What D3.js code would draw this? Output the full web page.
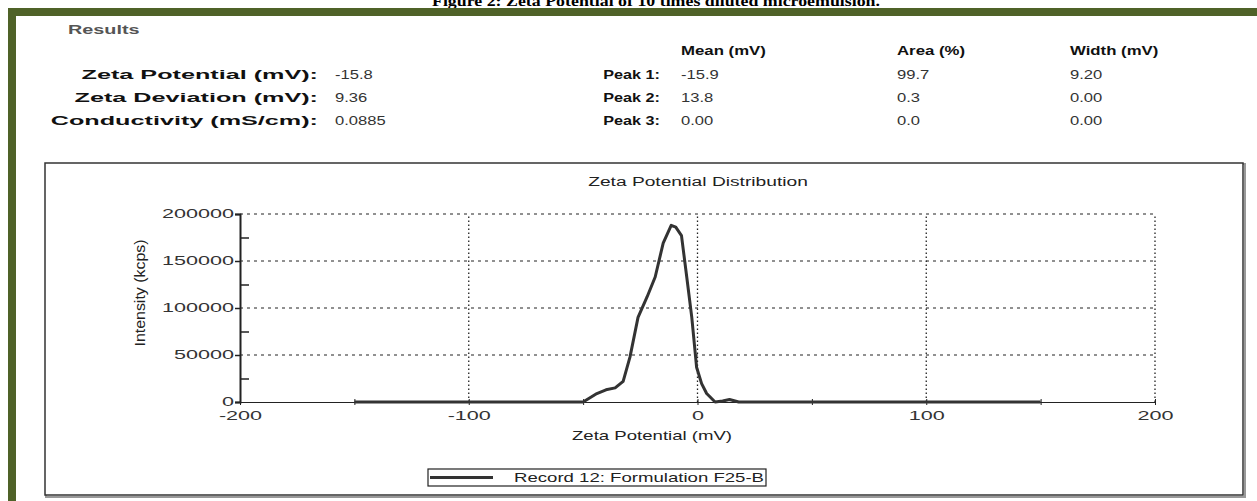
<!DOCTYPE html>
<html>
<head>
<meta charset="utf-8">
<script src="https://d3js.org/d3.v7.min.js"></script>
<style>
  body { margin: 0; background: #fff; }
  text { font-family: "Liberation Sans", Arial, sans-serif; }
</style>
</head>
<body>
<svg id="chart" width="1257" height="501"></svg>
<script>

// curve
var zeta      = [-150, -50, -44, -40, -36, -32.5, -29.5, -26, -22, -18.5, -15, -11.5, -9.5, -7, -4.7, -2.5, -0.4, 1.8, 4, 7.7, 11, 14, 18, 150];
var intensity = [0, 0, 9000, 13000, 15000, 22000, 48000, 90000, 112000, 133000, 169000, 188000, 186000, 177000, 133000, 90000, 37000, 19600, 9000, 0, 1000, 2700, 0, 0];

var xMajor = [-200, -100, 0, 100, 200];
var xMinor = [-150, -50, 50, 150];
var yMajor = [0, 50000, 100000, 150000, 200000];
var yMinor = [25000, 75000, 125000, 175000];

var summaryLabels = ["Zeta Potential (mV):", "Zeta Deviation (mV):", "Conductivity (mS/cm):"];
var summaryValues = ["-15.8", "9.36", "0.0885"];
var peakHeaders   = ["Mean (mV)", "Area (%)", "Width (mV)"];
var peakLabels    = ["Peak 1:", "Peak 2:", "Peak 3:"];
var peakMean      = ["-15.9", "13.8", "0.00"];
var peakArea      = ["99.7", "0.3", "0.0"];
var peakWidth     = ["9.20", "0.00", "0.00"];

var SX = 1.8;   // the picture is stretched sideways
var svg = d3.select("#chart");

function txt(g, s, x, y, o) {
  o = o || {};
  var tr = "translate(" + x + "," + y + ") scale(" + (o.sx || SX) + ",1)";
  if (o.rot) tr += " rotate(" + o.rot + ")";
  var t = g.append("text")
    .attr("transform", tr)
    .attr("text-anchor", o.anchor || "start")
    .attr("font-size", o.size || 12)
    .attr("font-weight", o.bold ? "bold" : null)
    .attr("fill", o.fill || "#222")
    .text(s);
  if (o.len) t.attr("textLength", o.len).attr("lengthAdjust", "spacingAndGlyphs");
  return t;
}

// caption, cut at the top
txt(svg, "Figure 2: Zeta Potential of 10 times diluted microemulsion.", 656, 6,
  { sx: 1, anchor: "middle", size: 15, bold: true, fill: "#000", len: 448 })
  .style("font-family", "'Liberation Serif', 'Times New Roman', serif");

// green frame
svg.append("rect").attr("x", 8).attr("y", 8).attr("width", 1249).attr("height", 8).attr("fill", "#4f6228");
svg.append("rect").attr("x", 8).attr("y", 8).attr("width", 8).attr("height", 493).attr("fill", "#4f6228");

// results block
txt(svg, "Results", 68, 34, { size: 12, sx: 1.65, bold: true, fill: "#555" });
peakHeaders.forEach(function(h, i) {
  txt(svg, h, [681, 897, 1070][i], 55, { size: 12, sx: 1.4, bold: true, fill: "#111" });
});
summaryLabels.forEach(function(s, i) {
  var yy = 79 + i * 23;
  txt(svg, s, 318, yy, { anchor: "end", size: 12, sx: 2.1, bold: true, fill: "#111" });
  txt(svg, summaryValues[i], 335, yy, { size: 12, sx: 1.38, fill: "#333" });
  txt(svg, peakLabels[i], 660, yy, { anchor: "end", size: 12, sx: 1.35, bold: true, fill: "#111" });
  txt(svg, peakMean[i], 681, yy, { size: 12, sx: 1.38, fill: "#333" });
  txt(svg, peakArea[i], 897, yy, { size: 12, sx: 1.38, fill: "#333" });
  txt(svg, peakWidth[i], 1070, yy, { size: 12, sx: 1.38, fill: "#333" });
});

// chart box
svg.append("rect").attr("x", 46).attr("y", 164).attr("width", 1199).attr("height", 333)
  .attr("fill", "none").attr("stroke", "#999").attr("stroke-width", 2);
svg.append("rect").attr("x", 45).attr("y", 163).attr("width", 1198).attr("height", 332)
  .attr("fill", "#fff").attr("stroke", "#333").attr("stroke-width", 1.5);

var x = d3.scaleLinear().domain([-200, 200]).range([240, 1155]);
var y = d3.scaleLinear().domain([0, 200000]).range([402, 214]);

txt(svg, "Zeta Potential Distribution", 698, 186, { anchor: "middle", size: 12, sx: 1.6, fill: "#222" });

// grid
svg.append("g").selectAll("line").data(yMajor.slice(1)).enter().append("line")
  .attr("x1", x(-200)).attr("x2", x(200))
  .attr("y1", function(d) { return y(d); }).attr("y2", function(d) { return y(d); })
  .attr("stroke", "#222").attr("stroke-width", 1).attr("stroke-dasharray", "3,4");
svg.append("g").selectAll("line").data(xMajor.slice(1)).enter().append("line")
  .attr("x1", function(d) { return x(d); }).attr("x2", function(d) { return x(d); })
  .attr("y1", y(0)).attr("y2", y(200000))
  .attr("stroke", "#222").attr("stroke-width", 1.3).attr("stroke-dasharray", "1.5,2.5");

// x axis
var xAxis = svg.append("g").attr("transform", "translate(0," + y(0) + ")")
  .call(d3.axisBottom(x).tickValues(xMajor.concat(xMinor)).tickSize(3).tickPadding(6)
    .tickFormat(function(d) { return xMajor.indexOf(d) >= 0 ? d : ""; }));
xAxis.select(".domain").attr("stroke", "#222");
xAxis.selectAll(".tick line").attr("y1", -3).attr("stroke", "#222");
xAxis.selectAll(".tick text")
  .attr("font-family", null).attr("font-size", 12).attr("fill", "#333")
  .attr("transform", "scale(" + SX + ",1)");

// y axis
var yAxis = svg.append("g").attr("transform", "translate(" + x(-200) + ",0)")
  .call(d3.axisLeft(y).tickValues(yMajor).tickSize(5).tickPadding(0).tickFormat(d3.format("d")));
yAxis.select(".domain").attr("stroke", "#222").attr("stroke-width", 2);
yAxis.selectAll(".tick line").attr("stroke", "#222").attr("stroke-width", 1.5);
yAxis.selectAll(".tick text")
  .attr("font-family", null).attr("font-size", 12).attr("fill", "#333")
  .attr("x", -6 / SX).attr("transform", "scale(" + SX + ",1)");
var yMinorAxis = svg.append("g").attr("transform", "translate(" + x(-200) + ",0)")
  .call(d3.axisRight(y).tickValues(yMinor).tickSize(9).tickFormat(""));
yMinorAxis.select(".domain").remove();
yMinorAxis.selectAll(".tick line").attr("stroke", "#222").attr("stroke-width", 1.5);

txt(svg, "Intensity (kcps)", 145, 293, { anchor: "middle", size: 11, sx: 1.35, rot: -90, fill: "#222", len: 107 });
txt(svg, "Zeta Potential (mV)", 652, 440, { anchor: "middle", size: 12, sx: 1.55, fill: "#222" });

// curve
var pts = zeta.map(function(z, i) { return [z, intensity[i]]; });
svg.append("path").datum(pts)
  .attr("fill", "none").attr("stroke", "#333").attr("stroke-width", 3).attr("stroke-linejoin", "round")
  .attr("d", d3.line().x(function(d) { return x(d[0]); }).y(function(d) { return y(d[1]); }));

// legend
svg.append("clipPath").attr("id", "lgclip").append("rect")
  .attr("x", 428).attr("y", 469).attr("width", 337).attr("height", 17);
svg.append("rect").attr("x", 428).attr("y", 469).attr("width", 338).attr("height", 17)
  .attr("fill", "#fff").attr("stroke", "#222").attr("stroke-width", 1.2);
svg.append("line").attr("x1", 430).attr("x2", 493).attr("y1", 477.5).attr("y2", 477.5)
  .attr("stroke", "#333").attr("stroke-width", 3);
svg.append("g").attr("clip-path", "url(#lgclip)")
  .call(function(g) { txt(g, "Record 12: Formulation F25-B", 514, 482, { size: 12, sx: 1.55, fill: "#222" }); });

</script>
</body>
</html>
